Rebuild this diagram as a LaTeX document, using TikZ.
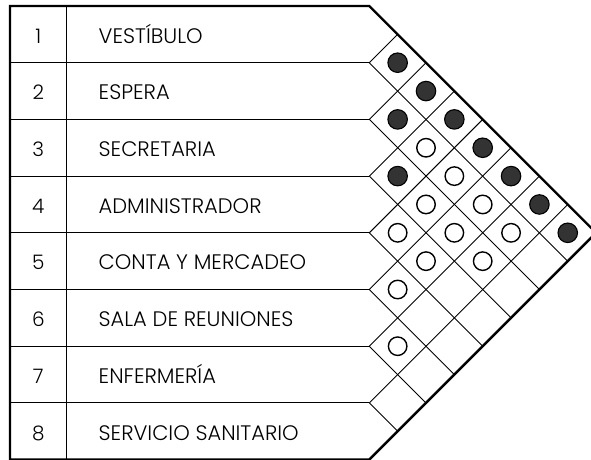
\documentclass[tikz,border=0pt]{standalone}
\usepackage{fontspec}
\IfFontExistsTF{Poppins Light}{\setmainfont{Poppins Light}}{\setmainfont{Poppins}}
\begin{document}
\begin{tikzpicture}[x=1pt,y=-1pt,
    grid line/.style={line width=0.9pt},
    frame line/.style={line width=2.4pt, line join=miter},
    full dot/.style={circle, draw, line width=1.1pt, fill=black!80, minimum size=19.5pt, inner sep=0pt},
    open dot/.style={circle, draw, line width=1.4pt, fill=white, minimum size=18.5pt, inner sep=0pt},
    room text/.style={font=\fontsize{21}{23}\selectfont, anchor=base west, inner sep=0pt},
    num text/.style={font=\fontsize{20}{22}\selectfont, anchor=base, inner sep=0pt}]
    \useasboundingbox (0,0) rectangle (591,459);
    \def\s{28.35}
    \def\xo{369.3}

    % filas de la tabla
    \foreach \i/\t in {1/VESTÍBULO, 2/ESPERA, 3/SECRETARIA, 4/ADMINISTRADOR,
                       5/CONTA Y MERCADEO, 6/SALA DE REUNIONES, 7/ENFERMERÍA,
                       8/SERVICIO SANITARIO} {
        \node[num text] (num\i) at (38.3, {6+(2*\i-1)*\s+8.8}) {\i};
        \node[room text] (room\i) at (98.5, {6+(2*\i-1)*\s+8.8}) {\t};
    }
    \foreach \k in {1,...,7} {
        \draw[grid line] (10, {6+2*\k*\s}) -- (\xo, {6+2*\k*\s});
    }
    \draw[grid line] (66.7, 6) -- (66.7, {6+16*\s});

    % retícula diagonal
    \foreach \k in {1,...,7} {
        \draw[grid line] ({\xo+\k*\s}, {6+\k*\s}) -- (\xo, {6+2*\k*\s})
                         -- ({\xo+(8-\k)*\s}, {6+(\k+8)*\s});
    }

    % marco exterior
    \draw[frame line] (10, {6+16*\s}) -- (10, 6) -- (\xo, 6)
        -- ({\xo+8*\s}, {6+8*\s}) -- (\xo, {6+16*\s}) -- cycle;

    % relaciones directas
    \foreach \i/\j in {1/2, 1/3, 2/3, 1/4, 1/5, 3/4, 1/6, 1/7, 1/8} {
        \node[full dot] (rel\i\j) at ({\xo+(\j-\i)*\s}, {6+(\i+\j-1)*\s}) {};
    }
    % relaciones indirectas
    \foreach \i/\j in {2/4, 2/5, 3/5, 2/6, 4/5, 3/6, 2/7, 4/6, 3/7, 5/6, 6/7} {
        \node[open dot] (rel\i\j) at ({\xo+(\j-\i)*\s}, {6+(\i+\j-1)*\s}) {};
    }
\end{tikzpicture}
\end{document}
